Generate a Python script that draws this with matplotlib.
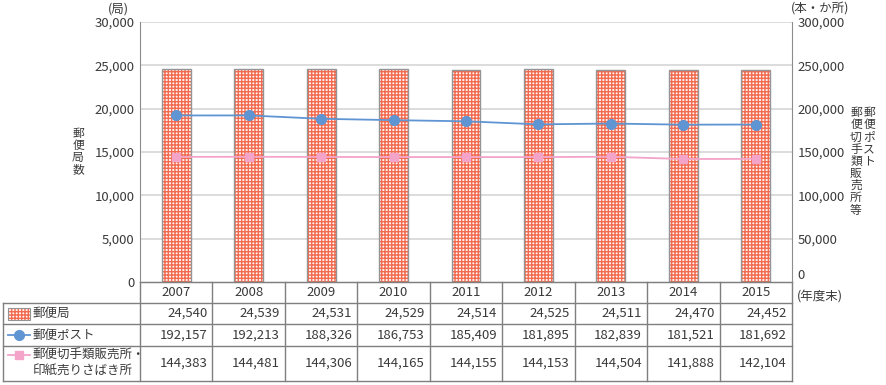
import numpy as np
import matplotlib.pyplot as plt
from matplotlib.patches import Rectangle
from matplotlib.lines import Line2D

plt.rcParams['font.family'] = ['Noto Sans CJK JP', 'DejaVu Sans']
plt.rcParams['hatch.linewidth'] = 1.0

years = ["2007", "2008", "2009", "2010", "2011", "2012", "2013", "2014", "2015"]
post_offices = [24540, 24539, 24531, 24529, 24514, 24525, 24511, 24470, 24452]
mail_boxes = [192157, 192213, 188326, 186753, 185409, 181895, 182839, 181521, 181692]
stamp_sellers = [144383, 144481, 144306, 144165, 144155, 144153, 144504, 141888, 142104]

row_labels = ["郵便局", "郵便ポスト", "郵便切手類販売所・\n印紙売りさばき所"]

W, H = 886, 385
BAR_FACE = "#fff4f0"
BAR_HATCH = "#f26a4f"
BAR_EDGE = "#949494"
BLUE = "#5f95d3"
PINK = "#f4a3c9"
GRID = "#d9d9d9"
AXIS = "#8c8c8c"
TXT = "#3a3a3a"

fig = plt.figure(figsize=(W / 100, H / 100), dpi=100)

# plot area in pixels
L, R, T, B = 140, 792, 22, 282
ax = fig.add_axes([L / W, 1 - B / H, (R - L) / W, (B - T) / H])
ax2 = ax.twinx()

x = np.arange(len(years))
ax.set_xlim(-0.5, len(years) - 0.5)
ax.set_ylim(0, 30000)
ax2.set_ylim(0, 300000)

for yv in range(5000, 30001, 5000):
    ax.axhline(yv, color=GRID, lw=1.3, zorder=0)

# bars: hatched fill then grey outline
ax.bar(x, post_offices, width=0.4, facecolor=BAR_FACE, edgecolor=BAR_HATCH,
       hatch="+++++", linewidth=0, zorder=2)
ax.bar(x, post_offices, width=0.4, facecolor="none", edgecolor=BAR_EDGE,
       linewidth=1.0, zorder=3)

ax2.plot(x, mail_boxes, color=BLUE, lw=1.3, marker="o", ms=7, zorder=5)
ax2.plot(x, stamp_sellers, color=PINK, lw=1.3, marker="s", ms=6, zorder=5)

yt = np.arange(0, 30001, 5000)
ax.set_yticks(yt)
ax.set_yticklabels([f"{v:,}" for v in yt])
yt2 = np.arange(0, 300001, 50000)
ax2.set_yticks(yt2)
ax2.set_yticklabels([f"{v:,}" for v in yt2])
ax.set_xticks([])
for a in (ax, ax2):
    a.tick_params(axis="y", length=0, labelsize=9.5, labelcolor=TXT, pad=4)
    for s in a.spines.values():
        s.set_visible(False)
ax.spines["left"].set_visible(True)
ax.spines["left"].set_color(AXIS)
ax2.spines["right"].set_visible(True)
ax2.spines["right"].set_color(AXIS)
ax.spines["bottom"].set_visible(True)
ax.spines["bottom"].set_color(AXIS)
ax2.set_zorder(ax.get_zorder() + 1)
ax2.patch.set_visible(False)
# right-hand zero sits a little above the base line, as in the source
ax2.get_yticklabels()[0].set_va("bottom")


def px(xp, yp):
    return xp / W, 1 - yp / H


def vtext(xp, yp, s, step=12.2, size=8.5):
    for i, ch in enumerate(s):
        fig.text(*px(xp, yp + i * step), ch, ha="center", va="top",
                 fontsize=size, color=TXT)


fig.text(*px(118, 9), "(局)", ha="center", va="center", fontsize=9, color=TXT)
fig.text(*px(820, 9), "(本・か所)", ha="center", va="center", fontsize=9, color=TXT)
vtext(78, 127, "郵便局数")
vtext(869, 106, "郵便ポスト")
vtext(856, 106, "郵便切手類販売所等")

# table
tax = fig.add_axes([0, 0, 1, 1])
tax.set_xlim(0, W)
tax.set_ylim(H, 0)
tax.axis("off")
tax.patch.set_visible(False)

TL = 3
row_y = [282, 303, 324, 346, 381]
col_w = (R - L) / len(years)
lc = "#7f7f7f"
tax.plot([L, R], [row_y[0], row_y[0]], color=lc, lw=1)
for yy in row_y[1:]:
    tax.plot([TL, R], [yy, yy], color=lc, lw=1)
tax.plot([TL, TL], [row_y[1], row_y[-1]], color=lc, lw=1)
for i in range(len(years) + 1):
    xx = L + i * col_w
    tax.plot([xx, xx], [row_y[0], row_y[-1]], color=lc, lw=1)

for i, yr in enumerate(years):
    cx = L + (i + 0.5) * col_w
    tax.text(cx, (row_y[0] + row_y[1]) / 2, yr, ha="center", va="center",
             fontsize=9.5, color=TXT)
for r, vals in enumerate([post_offices, mail_boxes, stamp_sellers]):
    cy = (row_y[r + 1] + row_y[r + 2]) / 2
    for i, v in enumerate(vals):
        tax.text(L + (i + 1) * col_w - 5, cy, f"{v:,}", ha="right",
                 va="center", fontsize=9.5, color=TXT)

fig.text(*px(797, 297), "(年度末)", ha="left", va="center", fontsize=9, color=TXT)

# row legend icons
cy = (row_y[1] + row_y[2]) / 2
tax.add_patch(Rectangle((8, cy - 6), 22, 12, facecolor=BAR_FACE,
                        edgecolor=BAR_HATCH, hatch="+++++", lw=0))
tax.add_patch(Rectangle((8, cy - 6), 22, 12, facecolor="none",
                        edgecolor=BAR_EDGE, lw=0.8))
tax.text(33, cy, row_labels[0], ha="left", va="center", fontsize=9, color=TXT)

cy = (row_y[2] + row_y[3]) / 2
tax.add_line(Line2D([8, 30], [cy, cy], color=BLUE, lw=1.3))
tax.plot([19], [cy], marker="o", ms=7, color=BLUE)
tax.text(33, cy, row_labels[1], ha="left", va="center", fontsize=9, color=TXT)

cy = (row_y[3] + row_y[4]) / 2
tax.add_line(Line2D([8, 30], [cy - 9, cy - 9], color=PINK, lw=1.3))
tax.plot([19], [cy - 9], marker="s", ms=6, color=PINK)
tax.text(33, cy, row_labels[2], ha="left", va="center", fontsize=9,
         color=TXT, linespacing=1.3)

fig.savefig("out.png", dpi=100)
